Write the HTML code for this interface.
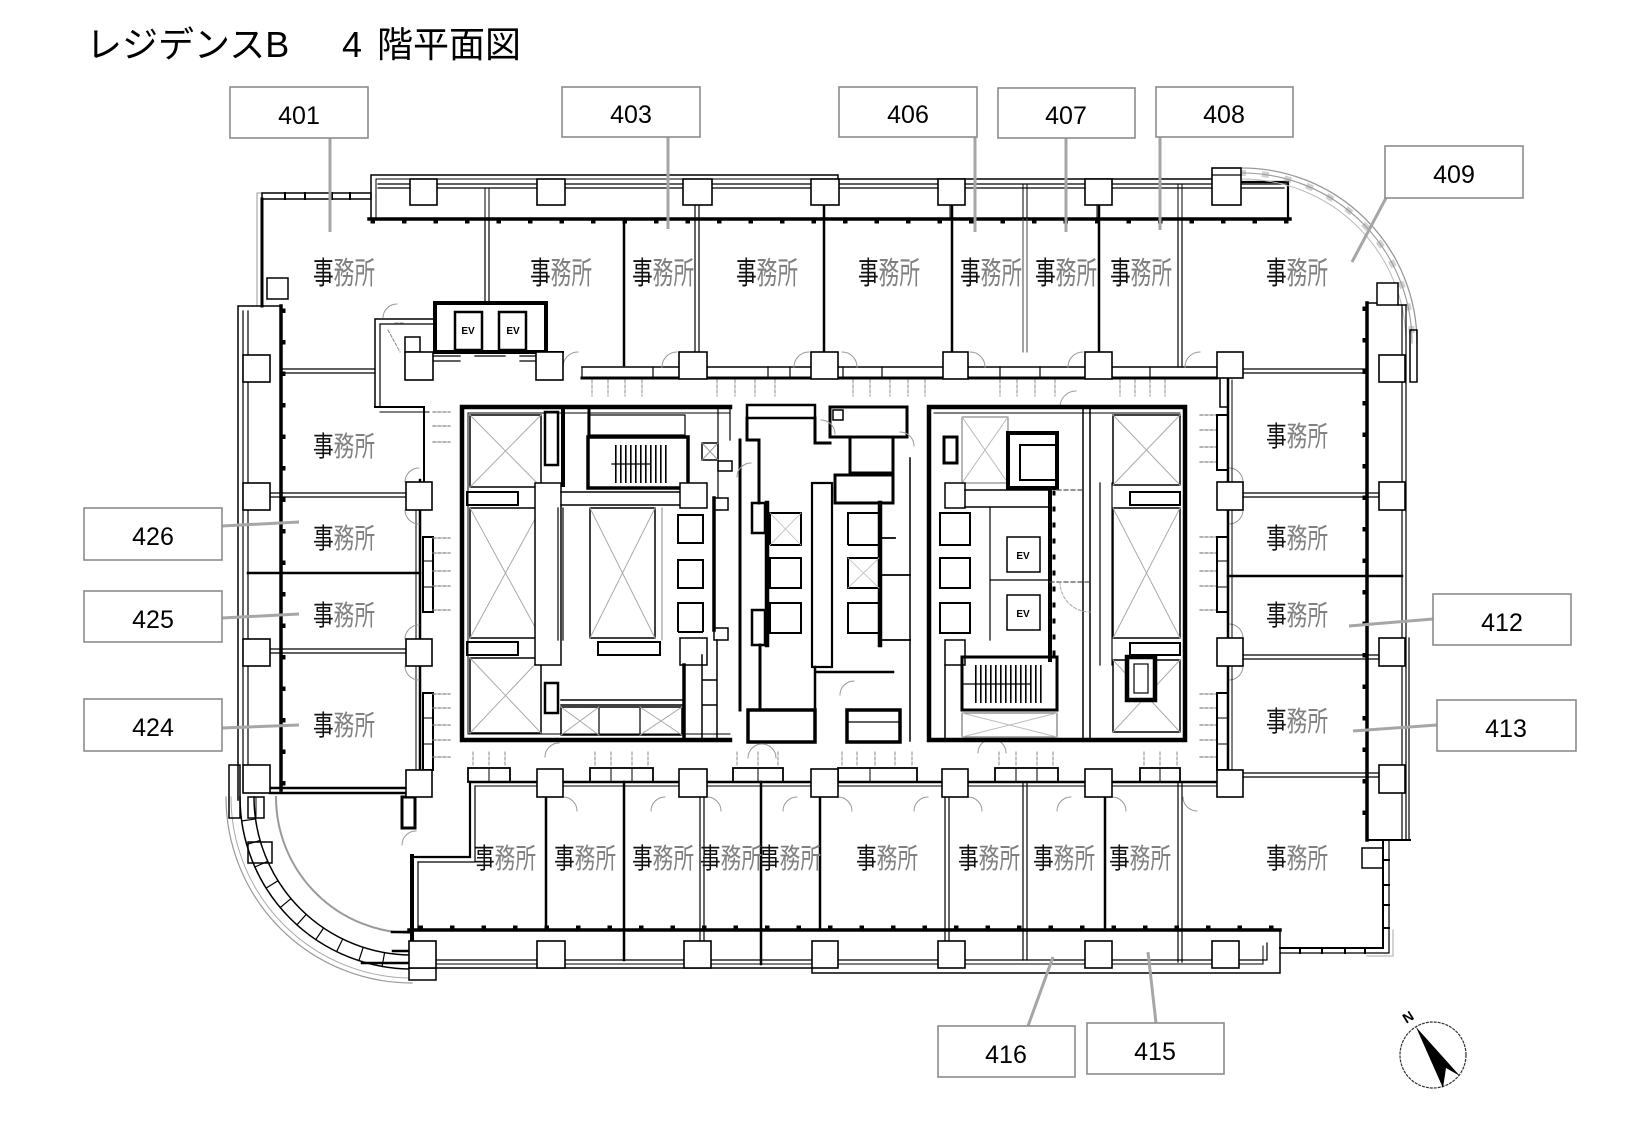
<!DOCTYPE html>
<html><head><meta charset="utf-8">
<style>
html,body{margin:0;padding:0;background:#fff;}
svg{display:block;}
.j{font-family:"Liberation Sans","Noto Sans CJK JP",sans-serif;fill:#111;}
.n{font-family:"Liberation Sans",sans-serif;font-size:25px;fill:#000;text-anchor:middle;}
</style></head><body>
<svg width="1645" height="1125" viewBox="0 0 1645 1125" xmlns="http://www.w3.org/2000/svg">
<defs>
<pattern id="vst" width="5" height="5" patternUnits="userSpaceOnUse"><rect x="0" y="0" width="1.6" height="5" fill="#000"/></pattern>
</defs>
<rect width="1645" height="1125" fill="#fff"/>

<g font-family="'Liberation Sans','Noto Sans CJK JP',sans-serif" font-size="36" fill="#000">
<text x="86" y="57">レジデンスB</text>
<text x="342" y="57">4</text>
<text x="377" y="57">階平面図</text>
</g>

<g fill="none" stroke="#000" stroke-linecap="square">
<path d="M371,219 V175 H838 V179 H1212" stroke-width="1.5"/>
<path d="M376,217 V179 H838" stroke-width="1"/>
<path d="M378,184 H1288" stroke-width="1.2"/>
<path d="M378,188 H1284" stroke-width="1.2"/>
<path d="M1241,182 H1288 V219" stroke-width="2.2"/>
<line x1="369" y1="219" x2="1290" y2="219" stroke-width="3.5"/>
<line x1="372" y1="222" x2="1288" y2="222" stroke-width="3" stroke-dasharray="1.5,30"/>
<path d="M485,188 V219 M489,188 V219 M1023,184 V219 M1027,184 V219 M1178,184 V219 M1182,184 V219 M950,184 V219 M1097,184 V219" stroke-width="1"/>

<path d="M258,193 H371" stroke="#999" stroke-width="1"/>
<rect x="262" y="193" width="109" height="6" stroke-width="1.5"/>
<path d="M285,193 V199 M305,193 V199 M332,193 V199 M350,193 V199" stroke-width="2"/>
<path d="M262,199 V306" stroke-width="3"/>
<path d="M257,193 V305" stroke="#999" stroke-width="1"/>
<rect x="267" y="278" width="21" height="21" fill="#fff" stroke-width="1.5"/>

<path d="M262,306 H238 V800" stroke-width="1.5"/>
<path d="M243,311 V765 M248,311 V765" stroke-width="1.2"/>
<path d="M262,306 H281" stroke-width="1.5"/>
<line x1="281" y1="306" x2="281" y2="790" stroke-width="3.5"/>
<line x1="284" y1="310" x2="284" y2="788" stroke-width="3" stroke-dasharray="1.5,30"/>

<path d="M1242,168 A175,175 0 0 1 1417,343" stroke="#999" stroke-width="1.3"/>
<path d="M1242,173 A170,170 0 0 1 1412,343" stroke="#999" stroke-width="1.1"/>
<path d="M1242,179 A164,164 0 0 1 1406,343" stroke="#bbb" stroke-width="1"/>
<path d="M1242,173 A170,170 0 0 1 1412,343" stroke="#999" stroke-width="6" stroke-dasharray="1,22" opacity="0.45"/>
<path d="M1402,305 V840 M1406,305 V840 M1409,638 V840" stroke-width="1.2"/>
<rect x="1410" y="330" width="7" height="52" stroke-width="1.5"/>
<line x1="1367" y1="303" x2="1367" y2="840" stroke-width="3.5"/>
<line x1="1364" y1="308" x2="1364" y2="838" stroke-width="3" stroke-dasharray="1.5,30"/>
<path d="M1367,303 H1377 M1398,305 H1406" stroke-width="1.5"/>
<rect x="1377" y="283" width="21" height="22" fill="#fff" stroke-width="1.5"/>

<path d="M1367,840 H1410" stroke-width="2"/>
<path d="M1383,840 V948 H1280" stroke-width="2"/>
<path d="M1389,840 V953 H1280" stroke-width="1.2"/>
<path d="M1389,860 H1383 M1389,885 H1383 M1389,905 H1383 M1389,928 H1383 M1300,948 V953 M1322,948 V953 M1345,948 V953 M1365,948 V953" stroke-width="2"/>
<path d="M1393,930 V956 H1367" stroke="#aaa" stroke-width="1"/>
<rect x="1362" y="848" width="21" height="20" stroke-width="1.5"/>

<line x1="409" y1="930" x2="1280" y2="930" stroke-width="3.5"/>
<line x1="420" y1="927" x2="1278" y2="927" stroke-width="3" stroke-dasharray="1.5,30"/>
<path d="M1280,930 V973 H812 V968 H436" stroke-width="1.5"/>
<path d="M1267,943 V960 H436" stroke-width="1.2"/>
<path d="M1263,946 V964 H436" stroke-width="1"/>

<path d="M226,797 A186,186 0 0 0 412,983" stroke="#999" stroke-width="1.2"/>
<path d="M231,797 A181,181 0 0 0 412,978" stroke="#aaa" stroke-width="1"/>
<path d="M240,797 A172,172 0 0 0 412,969" stroke-width="1.5"/>
<path d="M254,797 A158,158 0 0 0 412,955" stroke-width="1.5"/>
<path d="M384.6,952.6 L382.1,966.4 M363.2,947.3 L358.9,960.6 M342.7,939 L336.6,951.6 M323.6,928 L315.8,939.6 M306.3,914.4 L296.9,924.8 M291,898.6 L280.2,907.6 M278,880.7 L266.1,888.1 M267.7,861.3 L254.9,867 M260.1,840.5 L246.7,844.4 M255.5,819 L241.7,820.9" stroke-width="1.2"/>
<path d="M276,797 A136,136 0 0 0 412,933" stroke="#999" stroke-width="2"/>
<path d="M392,932 H410 M393,951 H410 M362,963 H410" stroke-width="2.5"/>
<rect x="229" y="765" width="11" height="53" stroke-width="1.5"/>
<rect x="248" y="797" width="16" height="21" stroke-width="1.5"/>
<line x1="256" y1="797" x2="256" y2="818" stroke-width="1"/>
<rect x="248" y="842" width="24" height="21" stroke-width="1.5"/>
<path d="M270,788 H406 M270,793 H406" stroke-width="2.5"/>
<rect x="402" y="797" width="13" height="31" stroke-width="3"/>
<path d="M402,845 A14,14 0 0 1 416,831" stroke="#999" stroke-width="1"/>
<line x1="412" y1="856" x2="412" y2="941" stroke-width="4"/>
<line x1="418" y1="862" x2="418" y2="930" stroke-width="1.2"/>
<path d="M414,857 H470 V782" stroke-width="2.2"/>
<path d="M418,862 H475 V786" stroke-width="1.2"/>
<rect x="409" y="968" width="27" height="12" fill="#fff" stroke-width="1.5"/>

<path d="M375,407 V319 H433" stroke-width="1.5"/>
<path d="M380,407 V324 H433" stroke-width="1.2"/>
<path d="M375,407 H424 V482" stroke-width="2"/>
<path d="M380,412 H429" stroke-width="1"/>
<rect x="405" y="337" width="15" height="15" stroke-width="1.5"/>
<path d="M388,330 L400,352 M395,323 H405" stroke="#888" stroke-width="1" stroke-dasharray="3,2"/>
<path d="M383,318 A14,14 0 0 1 397,304" stroke="#999" stroke-width="1"/>
<rect x="435" y="303" width="111" height="49" stroke-width="4"/>
<rect x="455" y="312" width="27" height="38" stroke-width="2.5"/>
<rect x="499" y="312" width="27" height="38" stroke-width="2.5"/>
<path d="M433,356 H460 M433,361 H460 M475,356 H505 M520,356 H537 M520,361 H537" stroke-width="1.2"/>
<path d="M546,352 H563" stroke-width="2"/>

<path d="M485,219 V303 M489,219 V303" stroke-width="1.2"/>
<line x1="624" y1="219" x2="624" y2="365" stroke-width="2.5"/>
<path d="M695,205 V352 M699,205 V352" stroke-width="1.2"/>
<line x1="824" y1="205" x2="824" y2="352" stroke-width="2.5"/>
<line x1="952" y1="205" x2="952" y2="352" stroke-width="2.5"/>
<path d="M1023,219 V352 M1027,219 V352" stroke="#555" stroke-width="1.1"/>
<line x1="1099" y1="205" x2="1099" y2="352" stroke-width="2.5"/>
<path d="M1178,219 V367 M1182,219 V367" stroke-width="1.2"/>
<path d="M582,367 H1217" stroke-width="1.5"/>
<path d="M582,378 H1217" stroke-width="3"/>
<path d="M582,367 V378 M653,367 V378 M707,367 V378 M790,367 V378 M768,367 V378 M843,367 V378 M882,367 V378 M968,367 V378 M1000,367 V378 M1040,367 V378 M1112,367 V378 M1150,367 V378" stroke-width="1.2"/>
<g stroke="#888" stroke-width="1" stroke-dasharray="3,2">
<path d="M592,380 V396 M608,380 V396 M625,380 V396 M642,380 V396 M717,380 V396 M735,380 V396 M755,380 V396 M775,380 V396 M853,380 V396 M870,380 V396 M890,380 V396 M908,380 V396 M925,380 V396 M1000,380 V396 M1017,380 V396 M1035,380 V396 M1055,380 V396 M1120,380 V396 M1135,380 V396 M1150,380 V396 M1165,380 V396"/>
</g>
<g stroke="#999" stroke-width="1">
<path d="M563,367 A15,15 0 0 1 578,352 M662,367 A15,15 0 0 1 677,352 M794,367 A15,15 0 0 1 809,352 M842,352 A15,15 0 0 1 857,367 M970,352 A15,15 0 0 1 985,367 M1068,367 A15,15 0 0 1 1083,352 M1185,367 A15,15 0 0 1 1200,352 M1060,407 A16,16 0 0 1 1076,391"/>
</g>

<path d="M281,369 H375 M281,373 H375 M270,493 H406 M270,497 H406 M270,649 H406 M270,653 H406" stroke-width="1.2"/>
<line x1="248" y1="573" x2="420" y2="573" stroke-width="2.5"/>
<line x1="420" y1="480" x2="420" y2="770" stroke-width="2.5"/>
<line x1="416" y1="482" x2="416" y2="770" stroke-width="1"/>
<rect x="423" y="537" width="10" height="75" stroke-width="2"/>
<rect x="423" y="693" width="10" height="77" stroke-width="2"/>
<path d="M423,561 H433 M423,587 H433 M423,718 H433 M423,744 H433" stroke-width="1"/>
<g stroke="#888" stroke-width="1.2" stroke-dasharray="3,2">
<path d="M433,538 H450 M433,553 H450 M433,571 H450 M433,586 H450 M433,610 H450 M433,694 H450 M433,708 H450 M433,725 H450 M433,740 H450 M433,757 H450 M433,412 H450 M433,426 H450 M433,442 H450"/>
<path d="M1200,537 H1216 M1200,553 H1216 M1200,571 H1216 M1200,586 H1216 M1200,610 H1216 M1200,694 H1216 M1200,708 H1216 M1200,725 H1216 M1200,740 H1216 M1200,757 H1216 M1200,415 H1216 M1200,430 H1216 M1200,447 H1216 M1200,462 H1216"/>
</g>
<g stroke="#999" stroke-width="1">
<path d="M405,482 A14,14 0 0 1 419,468 M419,524 A14,14 0 0 1 405,510 M405,639 A14,14 0 0 1 419,625 M419,680 A14,14 0 0 1 405,666"/>
<path d="M1243,482 A14,14 0 0 0 1229,468 M1229,524 A14,14 0 0 0 1243,510 M1243,638 A14,14 0 0 0 1229,624 M1229,680 A14,14 0 0 0 1243,666"/>
</g>

<path d="M1243,369 H1367 M1243,373 H1367 M1243,493 H1379 M1243,497 H1379 M1243,655 H1379 M1243,659 H1379 M1243,773 H1379 M1243,777 H1379" stroke-width="1.2"/>
<line x1="1228" y1="576" x2="1402" y2="576" stroke-width="2.5"/>
<line x1="1228" y1="378" x2="1228" y2="770" stroke-width="2.5"/>
<line x1="1232" y1="380" x2="1232" y2="770" stroke-width="1"/>
<path d="M1220,378 V407 H1228" stroke-width="1.5"/>
<rect x="1217" y="537" width="11" height="75" stroke-width="2"/>
<rect x="1217" y="693" width="11" height="77" stroke-width="2"/>
<path d="M1217,561 H1228 M1217,587 H1228 M1217,718 H1228 M1217,744 H1228" stroke-width="1"/>
<rect x="1217" y="415" width="11" height="55" stroke-width="2"/>

<path d="M470,782 H1228" stroke-width="2.5"/>
<path d="M475,786 H1228" stroke-width="1"/>
<g stroke-width="1.8">
<rect x="468" y="768" width="42" height="14"/>
<rect x="590" y="768" width="63" height="14"/>
<rect x="733" y="768" width="50" height="14"/>
<rect x="838" y="768" width="79" height="14"/>
<rect x="995" y="768" width="63" height="14"/>
<rect x="1140" y="768" width="40" height="14"/>
</g>
<path d="M489,768 V782 M611,768 V782 M632,768 V782 M758,768 V782 M870,768 V782 M1016,768 V782 M1037,768 V782 M1160,768 V782" stroke-width="1"/>
<g stroke="#888" stroke-width="1" stroke-dasharray="3,2">
<path d="M473,752 V767 M489,752 V767 M505,752 V767 M595,752 V767 M611,752 V767 M632,752 V767 M648,752 V767 M737,752 V767 M758,752 V767 M778,752 V767 M842,752 V767 M857,752 V767 M875,752 V767 M895,752 V767 M912,752 V767 M999,752 V767 M1016,752 V767 M1037,752 V767 M1053,752 V767 M1144,752 V767 M1160,752 V767 M1177,752 V767"/>
</g>
<g stroke="#999" stroke-width="1">
<path d="M563,797 A14,14 0 0 1 577,811 M665,797 A14,14 0 0 0 651,811 M707,797 A14,14 0 0 1 721,811 M797,797 A14,14 0 0 0 783,811 M838,797 A14,14 0 0 1 852,811 M928,797 A14,14 0 0 0 914,811 M968,797 A14,14 0 0 1 982,811 M1071,797 A14,14 0 0 0 1057,811 M1112,797 A14,14 0 0 1 1126,811 M1183,797 A14,14 0 0 0 1197,811"/>
</g>
<line x1="546" y1="797" x2="546" y2="930" stroke-width="2.5"/>
<line x1="624" y1="782" x2="624" y2="960" stroke-width="2.5"/>
<path d="M700,797 V941 M704,797 V941" stroke-width="1.2"/>
<line x1="761" y1="782" x2="761" y2="964" stroke-width="2.5"/>
<line x1="820" y1="797" x2="820" y2="930" stroke-width="2.5"/>
<path d="M945,797 V941 M949,797 V941 M1023,782 V960 M1027,782 V960" stroke-width="1.2"/>
<line x1="1105" y1="797" x2="1105" y2="930" stroke-width="2.5"/>
<path d="M1178,782 V962 M1182,782 V962" stroke-width="1.2"/>

<path d="M730,407 H462 V740 H730" stroke-width="4.5"/>
<path d="M730,413 H468 V734 H730" stroke-width="1"/>
<g stroke-width="1.5">
<rect x="470" y="415" width="71" height="72"/>
<rect x="470" y="508" width="71" height="130"/>
<rect x="470" y="658" width="71" height="75"/>
<rect x="590" y="508" width="65" height="130"/>
<rect x="561" y="707" width="121" height="28"/>
</g>
<path d="M599,707 V735 M640,707 V735" stroke-width="1.2"/>
<g stroke="#aaa" stroke-width="1">
<path d="M470,415 L541,487 M541,415 L470,487 M470,508 L541,638 M541,508 L470,638 M470,658 L541,733 M541,658 L470,733 M590,508 L655,638 M655,508 L590,638 M561,707 L599,735 M599,707 L561,735 M640,707 L682,735 M682,707 L640,735"/>
</g>
<rect x="467" y="492" width="51" height="13" stroke-width="2"/>
<rect x="467" y="642" width="51" height="13" stroke-width="2"/>
<rect x="535" y="483" width="26" height="182" fill="#fff" stroke-width="1.5"/>
<line x1="563" y1="407" x2="563" y2="485" stroke-width="4"/>
<rect x="545" y="412" width="13" height="53" stroke-width="2.5"/>
<rect x="545" y="683" width="13" height="30" stroke-width="2.5"/>
<rect x="588" y="437" width="100" height="51" stroke-width="3.5"/>
<rect x="612" y="445" width="56" height="38" fill="url(#vst)" stroke="none"/>
<line x1="612" y1="464" x2="650" y2="464" stroke-width="1.2"/>
<rect x="588" y="415" width="97" height="20" stroke-width="1.2"/>
<line x1="589" y1="407" x2="589" y2="437" stroke-width="3"/>
<path d="M561,492 H680 M561,505 H680" stroke-width="1.5"/>
<rect x="680" y="483" width="27" height="25" fill="#fff" stroke-width="1.5"/>
<rect x="680" y="638" width="27" height="27" fill="#fff" stroke-width="1.5"/>
<line x1="714" y1="498" x2="714" y2="630" stroke-width="3.5"/>
<rect x="714" y="498" width="14" height="12" stroke-width="1.5"/>
<rect x="714" y="628" width="14" height="12" stroke-width="1.5"/>
<rect x="598" y="642" width="62" height="13" stroke-width="2"/>
<path d="M558,508 V640 M563,508 V640" stroke-width="1.2"/>
<line x1="662" y1="508" x2="662" y2="640" stroke="#888" stroke-width="1"/>
<path d="M561,700 H682 M561,705 H682" stroke-width="1.5"/>
<line x1="684" y1="665" x2="684" y2="740" stroke-width="3.5"/>
<path d="M702,655 V740 M717,640 V740 M702,680 H717 M702,705 H717" stroke-width="1.5"/>
<path d="M718,407 V498 M730,407 V440" stroke-width="1.2"/>
<rect x="702" y="443" width="16" height="17" stroke-width="1.5"/>
<path d="M702,443 L718,460 M718,443 L702,460" stroke="#999" stroke-width="1"/>
<rect x="718" y="461" width="14" height="10" stroke-width="1.5"/>
<g stroke-width="2" stroke-dasharray="3,2">
<rect x="678" y="515" width="25" height="28"/>
<rect x="678" y="560" width="25" height="28"/>
<rect x="678" y="603" width="25" height="29"/>
</g>

<rect x="747" y="405" width="68" height="13" stroke-width="2.5"/>
<path d="M747,418 V440 H759 V503" stroke-width="3"/>
<path d="M815,418 V443 H830" stroke-width="3"/>
<rect x="830" y="407" width="77" height="30" stroke-width="3"/>
<rect x="833" y="410" width="10" height="10" stroke-width="1.5"/>
<rect x="850" y="437" width="43" height="36" stroke-width="3"/>
<rect x="835" y="475" width="58" height="28" stroke-width="3"/>
<line x1="740" y1="440" x2="740" y2="710" stroke-width="3"/>
<rect x="812" y="483" width="20" height="184" fill="#fff" stroke-width="2.2"/>
<rect x="752" y="503" width="13" height="30" stroke-width="2.5"/>
<rect x="752" y="610" width="13" height="35" stroke-width="2.5"/>
<line x1="767" y1="503" x2="767" y2="645" stroke-width="4.5"/>
<line x1="880" y1="503" x2="880" y2="645" stroke-width="4.5"/>
<path d="M893,437 V503 M880,538 H895 M880,575 H910 M880,640 H910" stroke-width="1.8"/>
<path d="M910,458 V741" stroke-width="1.5"/>
<line x1="760" y1="645" x2="760" y2="710" stroke-width="3"/>
<path d="M815,667 V710 M815,672 H893" stroke-width="2.5"/>
<rect x="748" y="710" width="67" height="32" stroke-width="3.5"/>
<rect x="847" y="710" width="53" height="32" stroke-width="3.5"/>
<line x1="847" y1="722" x2="900" y2="722" stroke-width="1.2"/>
<g stroke-width="2" stroke-dasharray="3,2">
<rect x="770" y="513" width="31" height="32"/>
<rect x="770" y="558" width="31" height="30"/>
<rect x="770" y="603" width="31" height="30"/>
<rect x="848" y="513" width="31" height="32"/>
<rect x="848" y="558" width="31" height="30"/>
<rect x="848" y="603" width="31" height="30"/>
</g>
<path d="M770,513 L801,545 M801,513 L770,545 M848,558 L879,588 M879,558 L848,588" stroke="#bbb" stroke-width="0.8"/>
<g stroke="#999" stroke-width="1">
<path d="M737,477 A14,14 0 0 1 751,463 M821,420 A14,14 0 0 1 835,434 M900,432 A14,14 0 0 1 914,446 M840,695 A14,14 0 0 1 854,681 M748,758 A14,14 0 0 1 762,744 M776,758 A14,14 0 0 0 762,744 M545,757 A14,14 0 0 1 559,743 M978,753 A14,14 0 0 1 992,739 M1006,753 A14,14 0 0 0 992,739"/>
</g>

<path d="M929,407 H1185 V740 H929 Z" stroke-width="4.5"/>
<path d="M934,413 H1180" stroke-width="1"/>
<rect x="944" y="437" width="13" height="26" stroke-width="3"/>
<rect x="962" y="417" width="46" height="66" stroke="#888" stroke-width="1.2"/>
<path d="M962,417 L1008,483 M1008,417 L962,483" stroke="#bbb" stroke-width="1"/>
<rect x="1008" y="433" width="49" height="55" stroke-width="4"/>
<rect x="1020" y="445" width="37" height="35" stroke-width="2"/>
<rect x="945" y="483" width="20" height="25" fill="#fff" stroke-width="1.5"/>
<path d="M965,490 H1048 M965,507 H1048" stroke-width="1.5"/>
<line x1="1050" y1="488" x2="1050" y2="660" stroke-width="4"/>
<line x1="1054" y1="492" x2="1054" y2="658" stroke-width="3" stroke-dasharray="2,14"/>
<line x1="990" y1="507" x2="990" y2="640" stroke-width="1.2"/>
<rect x="1007" y="537" width="33" height="35" stroke-width="1.5"/>
<rect x="1007" y="595" width="33" height="35" stroke-width="1.5"/>
<line x1="990" y1="580" x2="1048" y2="580" stroke-width="1.2"/>
<rect x="945" y="640" width="20" height="25" fill="#fff" stroke-width="1.5"/>
<rect x="962" y="657" width="95" height="53" stroke-width="3"/>
<rect x="975" y="665" width="70" height="38" fill="url(#vst)" stroke="none"/>
<line x1="962" y1="684" x2="1030" y2="684" stroke-width="1.2"/>
<rect x="962" y="713" width="95" height="24" stroke="#777" stroke-width="1.2"/>
<path d="M962,713 L1057,737 M1057,713 L962,737" stroke="#bbb" stroke-width="1"/>
<line x1="945" y1="665" x2="945" y2="741" stroke-width="1.5"/>
<path d="M1083,407 V741 M1090,407 V741" stroke-width="1.5"/>
<path d="M1057,490 H1083 M1050,582 H1090" stroke="#555" stroke-width="1.2" stroke-dasharray="4,3"/>
<path d="M1060,582 A30,30 0 0 0 1090,612" stroke="#aaa" stroke-width="1" stroke-dasharray="3,2"/>
<g stroke-width="1.5">
<rect x="1113" y="415" width="67" height="70"/>
<rect x="1113" y="508" width="67" height="130"/>
<rect x="1113" y="660" width="67" height="72"/>
</g>
<g stroke="#aaa" stroke-width="1">
<path d="M1113,415 L1180,485 M1180,415 L1113,485 M1113,508 L1180,638 M1180,508 L1113,638 M1113,660 L1180,732 M1180,660 L1113,732"/>
</g>
<rect x="1130" y="492" width="50" height="13" stroke-width="2"/>
<rect x="1130" y="643" width="50" height="12" stroke-width="2"/>
<path d="M1100,483 V665 M1112,483 V665" stroke-width="1.2"/>
<rect x="1127" y="657" width="28" height="43" fill="#fff" stroke-width="4.5"/>
<rect x="1134" y="664" width="14" height="29" stroke-width="1.2"/>
<g stroke-width="2" stroke-dasharray="3,2">
<rect x="940" y="513" width="30" height="32"/>
<rect x="940" y="558" width="30" height="30"/>
<rect x="940" y="603" width="30" height="30"/>
</g>

<g fill="#fff" stroke-width="1.6">
<rect x="410" y="179" width="27" height="26"/>
<rect x="537" y="179" width="28" height="26"/>
<rect x="683" y="179" width="29" height="26"/>
<rect x="811" y="179" width="28" height="26"/>
<rect x="938" y="179" width="27" height="26"/>
<rect x="1085" y="179" width="27" height="26"/>
<rect x="1212" y="168" width="29" height="37"/>
<rect x="405" y="352" width="28" height="28"/>
<rect x="536" y="352" width="27" height="28"/>
<rect x="679" y="352" width="28" height="27"/>
<rect x="811" y="352" width="27" height="27"/>
<rect x="943" y="352" width="25" height="27"/>
<rect x="1085" y="352" width="27" height="27"/>
<rect x="1217" y="352" width="26" height="26"/>
<rect x="243" y="355" width="27" height="27"/>
<rect x="243" y="483" width="27" height="27"/>
<rect x="243" y="639" width="27" height="27"/>
<rect x="243" y="765" width="27" height="28"/>
<rect x="406" y="482" width="26" height="28"/>
<rect x="406" y="639" width="26" height="27"/>
<rect x="406" y="770" width="26" height="27"/>
<rect x="1379" y="355" width="26" height="27"/>
<rect x="1379" y="482" width="26" height="28"/>
<rect x="1379" y="638" width="26" height="28"/>
<rect x="1379" y="765" width="26" height="28"/>
<rect x="1217" y="482" width="26" height="28"/>
<rect x="1217" y="638" width="26" height="28"/>
<rect x="1217" y="770" width="26" height="27"/>
<rect x="537" y="769" width="26" height="28"/>
<rect x="679" y="769" width="28" height="28"/>
<rect x="811" y="769" width="27" height="28"/>
<rect x="942" y="769" width="26" height="28"/>
<rect x="1085" y="769" width="27" height="28"/>
<rect x="409" y="941" width="27" height="27"/>
<rect x="537" y="941" width="28" height="27"/>
<rect x="684" y="941" width="27" height="27"/>
<rect x="812" y="941" width="26" height="27"/>
<rect x="938" y="941" width="27" height="27"/>
<rect x="1085" y="941" width="27" height="27"/>
<rect x="1212" y="941" width="27" height="27"/>
</g>
<line x1="1212" y1="175" x2="1241" y2="175" stroke-width="1.2"/>
</g>

<g font-family="'Liberation Sans',sans-serif" font-size="10" font-weight="bold" fill="#000" text-anchor="middle">
<text x="468" y="334">EV</text>
<text x="513" y="334">EV</text>
<text x="1023" y="559">EV</text>
<text x="1023" y="617">EV</text>
</g>

<g class="j" font-size="31">
<text x="313" y="284" textLength="62" lengthAdjust="spacingAndGlyphs">事<tspan fill="#808080">務所</tspan></text>
<text x="530" y="284" textLength="62" lengthAdjust="spacingAndGlyphs">事<tspan fill="#808080">務所</tspan></text>
<text x="632" y="284" textLength="62" lengthAdjust="spacingAndGlyphs">事<tspan fill="#808080">務所</tspan></text>
<text x="736" y="284" textLength="62" lengthAdjust="spacingAndGlyphs">事<tspan fill="#808080">務所</tspan></text>
<text x="858" y="284" textLength="62" lengthAdjust="spacingAndGlyphs">事<tspan fill="#808080">務所</tspan></text>
<text x="960" y="284" textLength="62" lengthAdjust="spacingAndGlyphs">事<tspan fill="#808080">務所</tspan></text>
<text x="1035" y="284" textLength="62" lengthAdjust="spacingAndGlyphs">事<tspan fill="#808080">務所</tspan></text>
<text x="1110" y="284" textLength="62" lengthAdjust="spacingAndGlyphs">事<tspan fill="#808080">務所</tspan></text>
<text x="1266" y="284" textLength="62" lengthAdjust="spacingAndGlyphs">事<tspan fill="#808080">務所</tspan></text>
</g>
<g class="j" font-size="28">
<text x="313" y="456" textLength="62" lengthAdjust="spacingAndGlyphs">事<tspan fill="#808080">務所</tspan></text>
<text x="313" y="548" textLength="62" lengthAdjust="spacingAndGlyphs">事<tspan fill="#808080">務所</tspan></text>
<text x="313" y="625" textLength="62" lengthAdjust="spacingAndGlyphs">事<tspan fill="#808080">務所</tspan></text>
<text x="313" y="735" textLength="62" lengthAdjust="spacingAndGlyphs">事<tspan fill="#808080">務所</tspan></text>
<text x="1266" y="446" textLength="62" lengthAdjust="spacingAndGlyphs">事<tspan fill="#808080">務所</tspan></text>
<text x="1266" y="548" textLength="62" lengthAdjust="spacingAndGlyphs">事<tspan fill="#808080">務所</tspan></text>
<text x="1266" y="625" textLength="62" lengthAdjust="spacingAndGlyphs">事<tspan fill="#808080">務所</tspan></text>
<text x="1266" y="731" textLength="62" lengthAdjust="spacingAndGlyphs">事<tspan fill="#808080">務所</tspan></text>
<text x="474" y="868" textLength="62" lengthAdjust="spacingAndGlyphs">事<tspan fill="#808080">務所</tspan></text>
<text x="554" y="868" textLength="62" lengthAdjust="spacingAndGlyphs">事<tspan fill="#808080">務所</tspan></text>
<text x="632" y="868" textLength="62" lengthAdjust="spacingAndGlyphs">事<tspan fill="#808080">務所</tspan></text>
<text x="700" y="868" textLength="62" lengthAdjust="spacingAndGlyphs">事<tspan fill="#808080">務所</tspan></text>
<text x="759" y="868" textLength="62" lengthAdjust="spacingAndGlyphs">事<tspan fill="#808080">務所</tspan></text>
<text x="856" y="868" textLength="62" lengthAdjust="spacingAndGlyphs">事<tspan fill="#808080">務所</tspan></text>
<text x="958" y="868" textLength="62" lengthAdjust="spacingAndGlyphs">事<tspan fill="#808080">務所</tspan></text>
<text x="1033" y="868" textLength="62" lengthAdjust="spacingAndGlyphs">事<tspan fill="#808080">務所</tspan></text>
<text x="1109" y="868" textLength="62" lengthAdjust="spacingAndGlyphs">事<tspan fill="#808080">務所</tspan></text>
<text x="1266" y="868" textLength="62" lengthAdjust="spacingAndGlyphs">事<tspan fill="#808080">務所</tspan></text>
</g>

<g stroke="#a6a6a6" stroke-width="3" fill="none">
<line x1="330" y1="138" x2="330" y2="232"/>
<line x1="668" y1="137" x2="668" y2="229"/>
<line x1="975" y1="137" x2="975" y2="232"/>
<line x1="1066" y1="138" x2="1066" y2="232"/>
<line x1="1160" y1="137" x2="1160" y2="230"/>
<line x1="1386" y1="198" x2="1352" y2="262"/>
<line x1="222" y1="526" x2="299" y2="522"/>
<line x1="222" y1="618" x2="299" y2="614"/>
<line x1="222" y1="728" x2="299" y2="725"/>
<line x1="1433" y1="619" x2="1349" y2="626"/>
<line x1="1437" y1="725" x2="1353" y2="731"/>
<line x1="1053" y1="957" x2="1028" y2="1026"/>
<line x1="1148" y1="952" x2="1156" y2="1023"/>
</g>

<g fill="#fff" stroke="#8c8c8c" stroke-width="1.6">
<rect x="230" y="87" width="138" height="51"/>
<rect x="562" y="87" width="138" height="50"/>
<rect x="839" y="87" width="138" height="50"/>
<rect x="998" y="88" width="137" height="50"/>
<rect x="1156" y="87" width="137" height="50"/>
<rect x="1385" y="146" width="138" height="52"/>
<rect x="84" y="508" width="138" height="52"/>
<rect x="84" y="591" width="138" height="51"/>
<rect x="84" y="699" width="138" height="52"/>
<rect x="1433" y="594" width="138" height="51"/>
<rect x="1437" y="700" width="139" height="51"/>
<rect x="938" y="1026" width="137" height="51"/>
<rect x="1087" y="1023" width="137" height="51"/>
</g>
<g class="n">
<text x="299" y="124">401</text>
<text x="631" y="123">403</text>
<text x="908" y="123">406</text>
<text x="1066" y="124">407</text>
<text x="1224" y="123">408</text>
<text x="1454" y="183">409</text>
<text x="153" y="545">426</text>
<text x="153" y="628">425</text>
<text x="153" y="736">424</text>
<text x="1502" y="631">412</text>
<text x="1506" y="737">413</text>
<text x="1006" y="1063">416</text>
<text x="1155" y="1060">415</text>
</g>

<circle cx="1433" cy="1055" r="33" fill="none" stroke="#333" stroke-width="1.2" stroke-dasharray="3,1"/>
<polygon points="1416,1027 1460,1076 1446,1068 1443,1088" fill="#000"/>
<text x="1408" y="1022" font-family="'Liberation Sans',sans-serif" font-size="14" font-weight="bold" fill="#000" text-anchor="middle" transform="rotate(-32 1408 1017)">N</text>
</svg>
</body></html>
